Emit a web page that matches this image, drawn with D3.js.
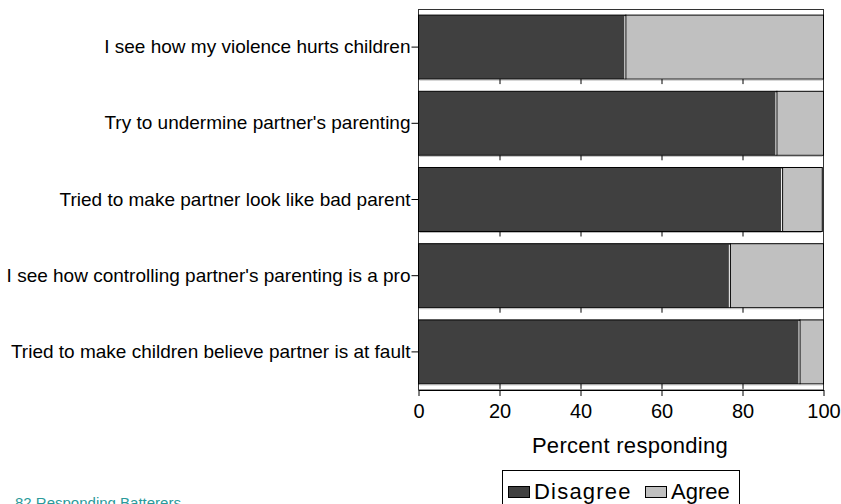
<!DOCTYPE html>
<html><head><meta charset="utf-8">
<script src="https://cdn.jsdelivr.net/npm/d3@7"></script>
<style>body{margin:0;background:#fff}svg{display:block}text{font-family:Arial,"Liberation Sans",sans-serif}</style>
</head><body>
<script>
const categories = [
  "I see how my violence hurts children",
  "Try to undermine partner's parenting",
  "Tried to make partner look like bad parent",
  "I see how controlling partner's parenting is a pro",
  "Tried to make children believe partner is at fault"
];
const disagree = [51.2, 88.5, 89.9, 77.0, 94.2];
const agree = [48.8, 11.5, 9.8, 23.0, 5.8];
const seriesNames = ["Disagree", "Agree"];
const seriesColors = ["#404040", "#c0c0c0"];
const xTicks = [0, 20, 40, 60, 80, 100];

const W = 841, H = 504;
const svg = d3.select("body").append("svg").attr("width", W).attr("height", H);
const x = d3.scaleLinear().domain([0, 100]).range([418.5, 823.5]);
const y = d3.scaleBand().domain(categories).range([9, 390]).paddingInner(0.16).paddingOuter(0.08);

// frame
svg.append("rect").attr("x", x(0)).attr("y", 9.5).attr("width", x(100) - x(0)).attr("height", 390 - 9.5)
  .attr("fill", "none").attr("stroke", "#333").attr("stroke-width", 1);

const rows = categories.map((c, i) => ({c, d: disagree[i], a: agree[i]}));
const g = svg.append("g");
rows.forEach(r => {
  const y0 = y(r.c), bh = y.bandwidth();
  g.append("rect").attr("x", x(0)).attr("y", y0).attr("width", x(r.d) - x(0)).attr("height", bh)
    .attr("fill", seriesColors[0]).attr("stroke", "#000").attr("stroke-width", 1);
  g.append("rect").attr("x", x(r.d)).attr("y", y0).attr("width", x(r.d + r.a) - x(r.d)).attr("height", bh)
    .attr("fill", seriesColors[1]).attr("stroke", "#000").attr("stroke-width", 1);
  g.append("line").attr("x1", x(r.d) - 1).attr("x2", x(r.d) - 1).attr("y1", y0 + 1).attr("y2", y0 + bh - 0.5)
    .attr("stroke", "#fff").attr("stroke-width", 1);
  g.append("line").attr("x1", x(0) + 1).attr("x2", x(r.d + r.a) - 1).attr("y1", y0 + bh + 1).attr("y2", y0 + bh + 1)
    .attr("stroke", "#bbb").attr("stroke-width", 1);
  // per-band bottom ticks
  const ax = svg.append("g").attr("transform", `translate(0,${y0 + bh})`)
    .call(d3.axisBottom(x).tickValues([20, 40, 60, 80]).tickSize(5).tickSizeOuter(0).tickFormat(""));
  ax.select(".domain").remove();
  ax.selectAll("line").attr("stroke", "#000");
});

// bottom axis
const bx = svg.append("g").attr("transform", "translate(0,390)")
  .call(d3.axisBottom(x).tickValues(xTicks).tickSize(6).tickSizeOuter(0).tickPadding(8));
bx.select(".domain").attr("stroke", "#000");
bx.selectAll("line").attr("stroke", "#000");
bx.selectAll("text").attr("font-size", 20).attr("fill", "#000").attr("font-family", "Arial, 'Liberation Sans', sans-serif");

// y axis labels
const ly = svg.append("g").attr("transform", `translate(${x(0)},0)`)
  .call(d3.axisLeft(y).tickSize(7).tickSizeOuter(0).tickPadding(1));
ly.select(".domain").remove();
ly.selectAll("line").attr("stroke", "#000");
ly.selectAll("text").attr("font-size", 19).attr("fill", "#000").attr("font-family", "Arial, 'Liberation Sans', sans-serif");

// axis title
svg.append("text").attr("x", 630).attr("y", 453).attr("text-anchor", "middle")
  .attr("font-size", 22).attr("letter-spacing", 0.3).attr("fill", "#000").text("Percent responding");

// legend
const lg = svg.append("g");
lg.append("rect").attr("x", 502.5).attr("y", 470.5).attr("width", 237).attr("height", 40)
  .attr("fill", "#fff").attr("stroke", "#000");
const legX = [508, 645];
const legLS = [1.2, 0];
seriesNames.forEach((n, i) => {
  lg.append("rect").attr("x", legX[i] + 0.5).attr("y", 486.5).attr("width", 21).attr("height", 11)
    .attr("fill", seriesColors[i]).attr("stroke", "#000");
  lg.append("text").attr("x", legX[i] + 26).attr("y", 499).attr("font-size", 22)
    .attr("letter-spacing", legLS[i]).attr("fill", "#000").text(n);
});

// footnote
svg.append("text").attr("x", 15).attr("y", 508).attr("font-size", 15).attr("fill", "#2a9a9a")
  .text("82 Responding Batterers");
</script>
</body></html>
